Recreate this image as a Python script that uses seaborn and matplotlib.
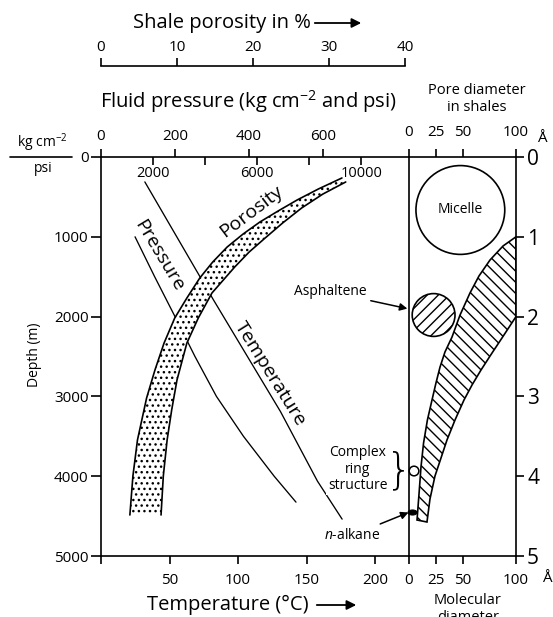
import numpy as np
import matplotlib
matplotlib.use("Agg")
import matplotlib.pyplot as plt
import seaborn as sns
from matplotlib.patches import Ellipse

# ---- depth profiles (depth in m) ----
temp_depth = [312, 1788, 3190, 4062, 4538]
temp_c = [32, 82, 131, 158, 176]

press_depth = [1000, 1500, 2000, 2500, 3000, 3500, 4000, 4325]
press_kg = [92, 145, 200, 254, 312, 385, 468, 527]

# shale porosity band (%), low and high edges
por_lo_depth = [263, 401, 539, 677, 815, 965, 1128, 1316, 1516, 1767, 2018, 2331,
                2669, 3020, 3546, 3997, 4486]
por_lo = [31.7, 28.6, 25.8, 23.3, 20.9, 18.7, 16.6, 14.7, 13.0, 11.3, 9.7, 8.3,
          7.1, 6.0, 4.8, 4.2, 3.8]
por_hi_depth = [313, 464, 639, 827, 1015, 1190, 1378, 1541, 1704, 2018, 2331, 2794,
                3170, 3546, 3997, 4486]
por_hi = [32.2, 29.2, 26.4, 23.9, 21.6, 19.5, 17.6, 16.1, 14.6, 12.8, 11.3, 10.0,
          9.3, 8.7, 8.2, 7.9]

# pore diameter in shales (Angstrom), small and large edges
pore_lo_depth = [1000, 1115, 1291, 1491, 1704, 1980, 2256, 2444, 2632, 2832, 3045,
                 3296, 3584, 3885, 4198, 4549]
pore_lo = [100, 87.9, 75.7, 65.4, 57.0, 47.7, 40.2, 33.6, 29.0, 25.2, 21.5,
           17.2, 13.6, 11.2, 9.5, 7.5]
pore_hi_depth = [2000, 2268, 2456, 2669, 2857, 3045, 3296, 3546, 3772, 3997, 4286, 4574]
pore_hi = [100, 86.9, 77.6, 67.3, 58.9, 51.4, 43.0, 35.5, 29.9, 24.3, 19.6, 16.8]

# molecular sizes (Angstrom) and depth positions
micelle = dict(x=48, depth=664, d=83)
asphaltene = dict(x=23, depth=1980, d=40)
ring = dict(x=4.7, depth=3935, d=9)
alkane = dict(x=3.3, depth=4455, w=8.4, h=4.7)

temp_ticks = [0, 50, 100, 150, 200]
temp_labels = ["", "50", "100", "150", "200"]
press_ticks = [0, 200, 400, 600]
psi_ticks = [2000, 4000, 6000, 8000, 10000]
psi_labels = [2000, 6000, 10000]
por_ticks = [0, 10, 20, 30, 40]
depth_ticks = [0, 1000, 2000, 3000, 4000, 5000]
km_labels = ["0", "1", "2", "3", "4", "5"]
pore_ticks = [0, 25, 50, 100]

KG_TO_PSI = 14.2233

sns.set_theme(style="white")
plt.rcParams.update({
    "font.family": ["Open Sans", "DejaVu Sans"],
    "mathtext.fontset": "custom",
    "mathtext.rm": "Open Sans",
    "mathtext.it": "Open Sans:italic",
    "mathtext.default": "regular",
    "hatch.linewidth": 1.0,
    "hatch.color": "black",
    "axes.linewidth": 1.2,
    "axes.edgecolor": "black",
    "xtick.color": "black",
    "ytick.color": "black",
    "text.color": "black",
})

W, H = 553, 617
fig = plt.figure(figsize=(W / 100, H / 100), dpi=100, facecolor="white")


def box(x0, y0, x1, y1):
    return [x0 / W, 1 - y1 / H, (x1 - x0) / W, (y1 - y0) / H]


AX_L, AX_R, AX_T, AX_B = 101, 409, 157, 556
R_R = 516
PX_PER_C = 1.37
PX_PER_KG = 0.37
PX_PER_POR = 7.6

ax = fig.add_axes(box(AX_L, AX_T, AX_R, AX_B))
ax_r = fig.add_axes(box(AX_R, AX_T, R_R, AX_B))
ax_p = ax.twiny()
ax_psi = ax.twiny()
ax_por = ax.twiny()

width_px = AX_R - AX_L
ax.set_xlim(0, width_px / PX_PER_C)
ax_p.set_xlim(0, width_px / PX_PER_KG)
ax_psi.set_xlim(0, width_px / PX_PER_KG * KG_TO_PSI)
ax_por.set_xlim(0, width_px / PX_PER_POR)

line_kw = dict(color="black", linewidth=0.95, orient="y", sort=False, estimator=None)

# temperature and pressure profiles
sns.lineplot(x=temp_c, y=temp_depth, ax=ax, zorder=2, **line_kw)
sns.lineplot(x=press_kg, y=press_depth, ax=ax_p, **line_kw)

# porosity band with stipple
band_x = np.r_[por_lo, por_hi[::-1]]
band_y = np.r_[por_lo_depth, por_hi_depth[::-1]]
ax_por.fill(band_x, band_y, facecolor="white", edgecolor="black", hatch="...",
            linewidth=0, zorder=1)
edge_kw = dict(color="black", linewidth=1.2, orient="y", sort=False, estimator=None)
sns.lineplot(x=por_lo, y=por_lo_depth, ax=ax_por, **edge_kw)
sns.lineplot(x=por_hi, y=por_hi_depth, ax=ax_por, **edge_kw)

for a in (ax, ax_p, ax_psi, ax_por, ax_r):
    a.set_ylim(5000, 0)
    a.set_xlabel("")
    a.set_ylabel("")

# ---- main axis ticks ----
ax.set_xticks(temp_ticks)
ax.set_xticklabels(temp_labels)
ax.set_yticks(depth_ticks)
ax.set_yticklabels([str(v) for v in depth_ticks])
ax.tick_params(axis="x", bottom=True, top=False, direction="out", length=6, width=1.2,
               pad=6, labelsize=11)
ax.tick_params(axis="y", left=True, right=False, direction="out", length=7, width=1.2,
               pad=2, labelsize=11)
ax.spines["right"].set_visible(False)
ax.spines["top"].set_visible(False)

ax_p.set_xticks(press_ticks)
ax_p.set_xticklabels([str(v) for v in press_ticks])
ax_p.tick_params(axis="x", top=True, bottom=False, labeltop=True, labelbottom=False,
                 direction="out", length=6, width=1.2, pad=3, labelsize=11)
ax_p.tick_params(axis="y", left=False, right=False, labelleft=False, labelright=False)
for s in ("left", "right", "bottom"):
    ax_p.spines[s].set_visible(False)

ax_psi.set_xticks(psi_ticks)
ax_psi.tick_params(axis="x", top=True, bottom=False, labeltop=False, labelbottom=False,
                   direction="in", length=6, width=1.2)
ax_psi.tick_params(axis="y", left=False, right=False, labelleft=False, labelright=False)
for s in ax_psi.spines.values():
    s.set_visible(False)
for v in psi_labels:
    ax_psi.text(v, 210, str(v), ha="center", va="center", fontsize=10.5)

ax_por.set_xticks([])
ax_por.tick_params(axis="both", top=False, bottom=False, left=False, right=False,
                   labeltop=False, labelleft=False)
for s in ax_por.spines.values():
    s.set_visible(False)

# ---- right panel: molecular and pore sizes ----
ax_r.set_xlim(0, 100)
ax_r.set_xticks(pore_ticks)
ax_r.set_xticklabels([str(v) for v in pore_ticks])
ax_r.tick_params(axis="x", bottom=True, top=True, labeltop=True, labelbottom=True,
                 direction="out", length=6, width=1.2, pad=6, labelsize=11)
ax_r.set_yticks(depth_ticks)
ax_r.set_yticklabels(km_labels)
ax_r.yaxis.tick_right()
ax_r.tick_params(axis="y", right=True, left=False, labelright=True, labelleft=False,
                 direction="out", length=6, width=1.2, pad=2, labelsize=15)
ax_r.set_facecolor("none")

# aspect factor so that circles stay round: metres per Angstrom on screen
k = ((R_R - AX_R) / 100) / ((AX_B - AX_T) / 5000)

pore_x = np.r_[pore_lo, pore_hi[::-1]]
pore_y = np.r_[pore_lo_depth, pore_hi_depth[::-1]]
ax_r.fill(pore_x, pore_y, facecolor="white", edgecolor="black", hatch="\\\\\\",
          linewidth=1.2, zorder=2)

ax_r.add_patch(Ellipse((micelle["x"], micelle["depth"]), micelle["d"], micelle["d"] * k,
                       facecolor="none", edgecolor="black", linewidth=1.2))
ax_r.text(micelle["x"], micelle["depth"], "Micelle", ha="center", va="center", fontsize=10)
ax_r.add_patch(Ellipse((asphaltene["x"], asphaltene["depth"]), asphaltene["d"],
                       asphaltene["d"] * k, facecolor="white", edgecolor="black",
                       hatch="///", linewidth=1.2, zorder=2))
ax_r.add_patch(Ellipse((ring["x"], ring["depth"]), ring["d"], ring["d"] * k,
                       facecolor="white", edgecolor="black", linewidth=1.1, zorder=3,
                       clip_on=False))
ax_r.add_patch(Ellipse((alkane["x"], alkane["depth"]), alkane["w"], alkane["h"] * k,
                       facecolor="black", edgecolor="black", linewidth=0.8, zorder=3,
                       clip_on=False))

arrow_kw = dict(arrowstyle="-|>", color="black", lw=1.1, mutation_scale=11,
                shrinkA=1, shrinkB=0)
ax_r.annotate("Asphaltene", xy=(-1.5, 1900), xytext=(-74, 1690), fontsize=10,
              ha="center", va="center", arrowprops=arrow_kw, annotation_clip=False)
ax_r.annotate("$\\it{n}$-alkane", xy=(-0.5, 4455), xytext=(-53, 4740), fontsize=10,
              ha="center", va="center", arrowprops=arrow_kw, annotation_clip=False)
ax_r.text(-47.7, 3910, "Complex\nring\nstructure", ha="center", va="center",
          fontsize=10, linespacing=1.15, zorder=5,
          bbox=dict(facecolor="white", edgecolor="none", pad=1.5))
ax_r.text(-9.5, 3935, "}", ha="center", va="center", fontsize=30,
          family="DejaVu Sans", fontweight="light", zorder=5)

# ---- curve labels ----
ax.text(109.5, 677, "Porosity", rotation=37, rotation_mode="anchor", ha="center",
        va="center", fontsize=14)
ax.text(42.3, 1240, "Pressure", rotation=-59, rotation_mode="anchor", ha="center",
        va="center", fontsize=14)
ax.text(123.4, 2719, "Temperature", rotation=-58, rotation_mode="anchor", ha="center",
        va="center", fontsize=14)

# ---- porosity scale above the chart ----
ax_ps = fig.add_axes(box(AX_L, 66, AX_L + 40 * PX_PER_POR, 67))
ax_ps.set_xlim(0, 40)
ax_ps.set_xticks(por_ticks)
ax_ps.set_xticklabels([str(v) for v in por_ticks])
ax_ps.set_yticks([])
ax_ps.tick_params(axis="x", top=True, bottom=False, labeltop=True, labelbottom=False,
                  direction="out", length=6, width=1.2, pad=2, labelsize=11)
for s in ("left", "right", "bottom"):
    ax_ps.spines[s].set_visible(False)
ax_ps.set_facecolor("none")


# ---- titles and scale captions ----
def ftext(x, y, s, **kw):
    fig.text(x / W, 1 - y / H, s, **kw)


def farrow(x0, x1, y):
    fig.add_artist(matplotlib.patches.FancyArrowPatch(
        (x0 / W, 1 - y / H), (x1 / W, 1 - y / H), transform=fig.transFigure,
        arrowstyle="-|>", mutation_scale=14, color="black", lw=1.3))


ftext(133, 23, "Shale porosity in %", ha="left", va="center", fontsize=14.5)
farrow(312, 364, 23)
ftext(100, 102, "Fluid pressure (kg cm$^{-2}$ and psi)", ha="left", va="center",
      fontsize=14.5)
ftext(477, 99, "Pore diameter\nin shales", ha="center", va="center", fontsize=10.5,
      linespacing=1.1)
ftext(542, 138, "Å", ha="center", va="center", fontsize=11)
ftext(547, 579, "Å", ha="center", va="center", fontsize=11)
ftext(42, 143, "kg cm$^{-2}$", ha="center", va="center", fontsize=10)
fig.add_artist(plt.Line2D([10 / W, 72 / W], [1 - 157 / H, 1 - 157 / H],
                          transform=fig.transFigure, color="black", lw=1.2))
ftext(43, 168, "psi", ha="center", va="center", fontsize=10)
ftext(35, 355, "Depth (m)", ha="center", va="center", rotation=90, fontsize=10)
ftext(147, 605, "Temperature (°C)", ha="left", va="center", fontsize=14.5)
farrow(314, 359, 605)
ftext(468, 593, "Molecular\ndiameter", ha="center", va="top", fontsize=10.5,
      linespacing=1.2)

fig.savefig("out.png", dpi=100, facecolor="white")
